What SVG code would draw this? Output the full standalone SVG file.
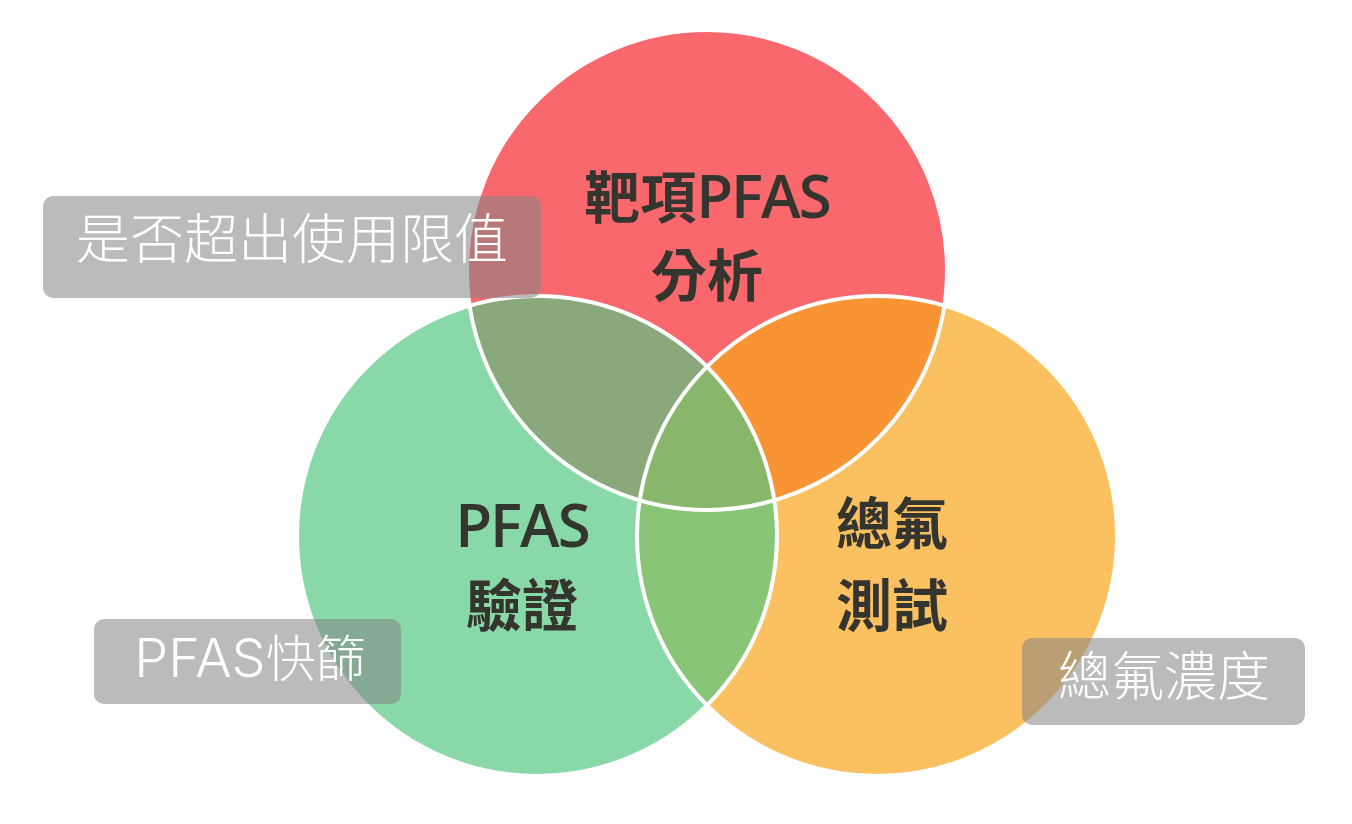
<svg xmlns="http://www.w3.org/2000/svg" width="1352" height="824" viewBox="0 0 1352 824">
<style>
.lbl{font-family:"Open Sans","Noto Sans CJK TC","Noto Sans CJK SC",sans-serif;font-weight:600;font-size:56px;fill:#353530;text-anchor:middle}
.lat{font-size:60px;letter-spacing:-2px}
.box{fill:#838383;fill-opacity:0.55}
.btxt{font-family:"Inter","Noto Sans CJK TC","Noto Sans CJK SC",sans-serif;font-weight:300;fill:#ffffff;text-anchor:middle}
.ring{fill:none;stroke:#ffffff;stroke-width:4}
</style>
<defs>
<clipPath id="cRed"><circle cx="707" cy="270" r="240"/></clipPath>
<clipPath id="cGreen"><circle cx="537" cy="536" r="240"/></clipPath>
<clipPath id="cOrange"><circle cx="877" cy="536" r="240"/></clipPath>
</defs>
<rect width="1352" height="824" fill="#ffffff"/>
<g id="circles">
<circle id="red" cx="707" cy="270" r="240" fill="#F9686D"/>
<circle id="green" cx="537" cy="536" r="240" fill="#89D8A8"/>
<circle id="orange" cx="877" cy="536" r="240" fill="#FBC160"/>
</g>
<g id="overlaps">
<circle cx="537" cy="536" r="240" fill="#89A87B" clip-path="url(#cRed)"/>
<circle cx="877" cy="536" r="240" fill="#F89433" clip-path="url(#cRed)"/>
<circle cx="877" cy="536" r="240" fill="#89C577" clip-path="url(#cGreen)"/>
<g clip-path="url(#cGreen)"><circle cx="707" cy="270" r="240" fill="#88B76C" clip-path="url(#cOrange)"/></g>
</g>
<g id="connectors">
<circle class="ring" cx="707" cy="270" r="240"/>
<circle class="ring" cx="537" cy="536" r="240"/>
<circle class="ring" cx="877" cy="536" r="240"/>
</g>
<g id="node-target">
<text class="lbl" x="707" y="218">靶項<tspan class="lat">PFAS</tspan></text>
<text class="lbl" x="707" y="296">分析</text>
</g>
<g id="node-verify">
<text class="lbl" x="522" y="547"><tspan class="lat">PFAS</tspan></text>
<text class="lbl" x="522" y="626">驗證</text>
</g>
<g id="node-total">
<text class="lbl" x="892" y="544">總氟</text>
<text class="lbl" x="892" y="626">測試</text>
</g>
<g id="box-limit">
<rect class="box" x="43" y="196" width="498" height="102" rx="10"/>
<text class="btxt" x="292" y="259" font-size="54">是否超出使用限值</text>
</g>
<g id="box-screen">
<rect class="box" x="94" y="619" width="307" height="85" rx="10"/>
<text class="btxt" x="250" y="677" font-size="50"><tspan font-size="54">PFAS</tspan>快篩</text>
</g>
<g id="box-conc">
<rect class="box" x="1022" y="638" width="283" height="87" rx="10"/>
<text class="btxt" x="1164" y="696" font-size="53">總氟濃度</text>
</g>
</svg>
